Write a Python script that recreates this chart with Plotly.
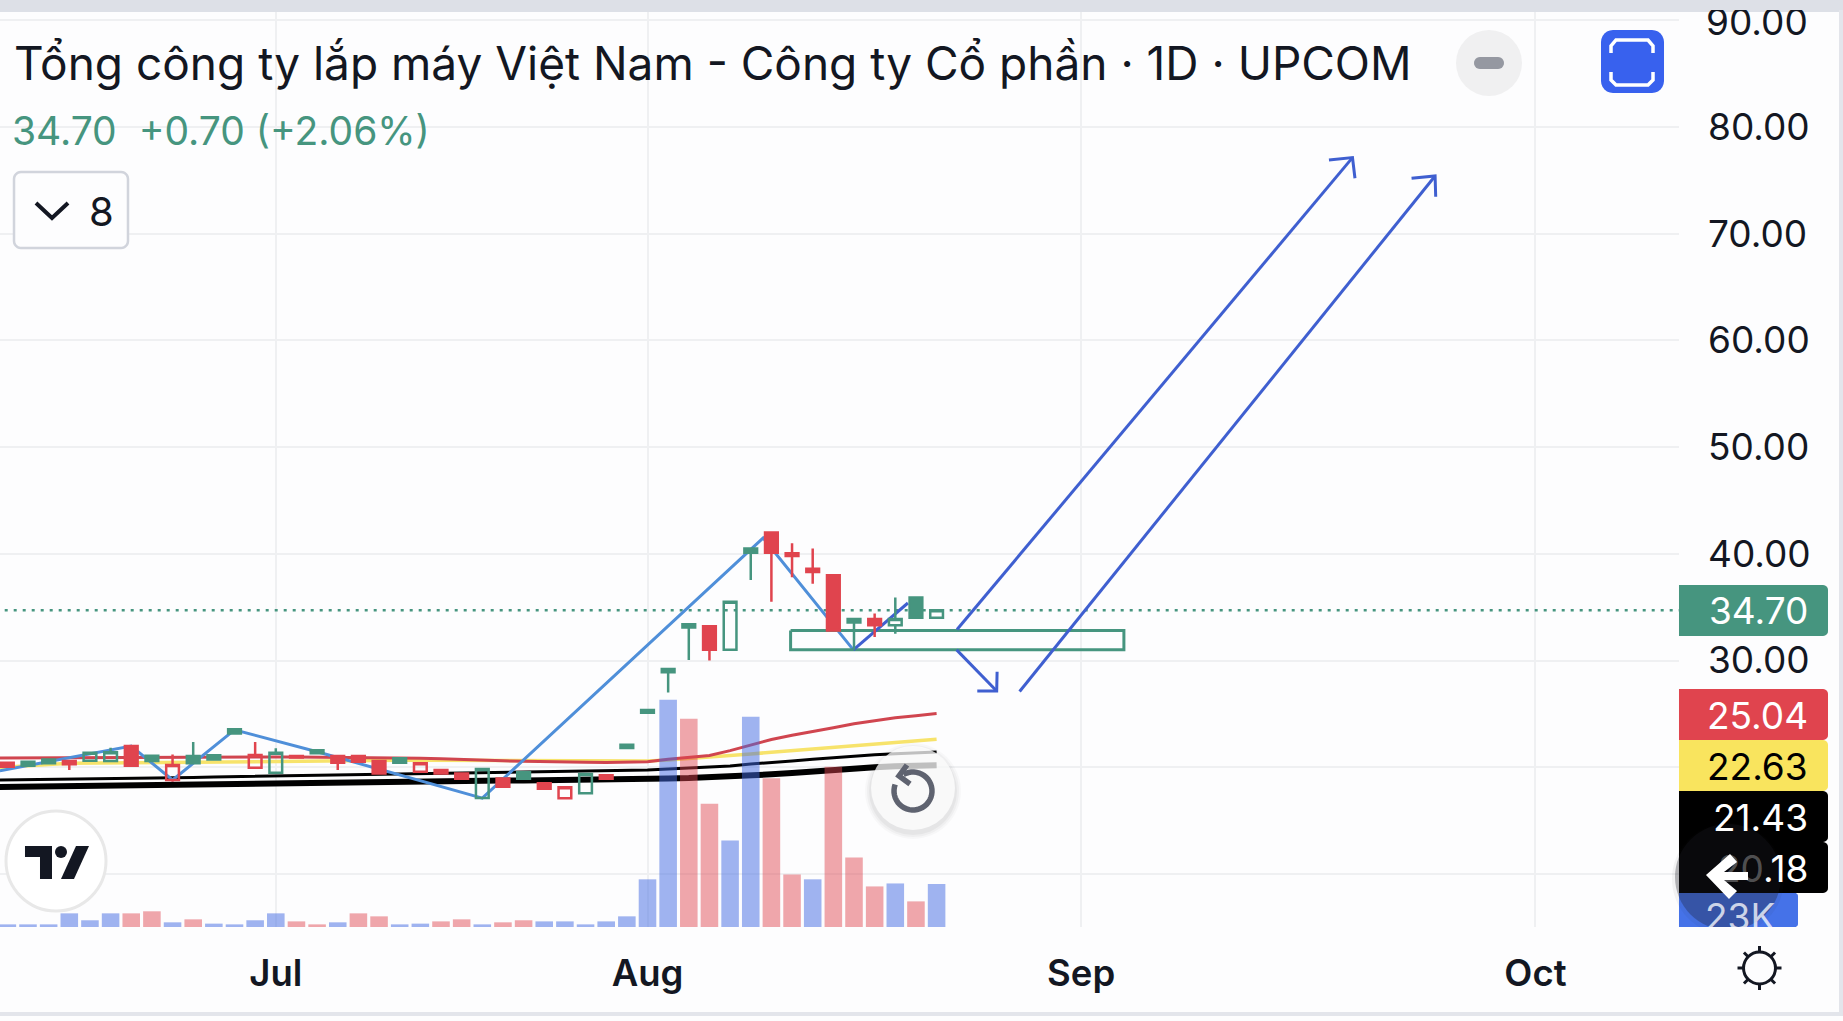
import numpy as np
import plotly.graph_objects as go

# Session number: 0 is the first session of August, -32 sits just off the left edge
bars = list(range(-32, 15))

opens = [20.5, 20.42, 20.52, 20.73, 20.58, 20.61, 20.58, 21.98, 21.08, 18.8, 21.05, 21.11, 23.55, 19.95, 19.49, 21.05, 21.58,
         21.05, 21.05, 20.58, 20.83, 19.58, 19.74, 19.42, 17.11, 18.95, 19.52, 18.49, 17.08, 17.55, 19.24, 22.1,
         25.35, 29.2, 33.4, 33.2, 31.0, 40.5, 42.0, 40.05, 38.6, 38.0, 33.9, 33.9, 33.3, 35.9, 34.0]
highs = [20.55, 20.45, 20.55, 20.78, 20.67, 21.36, 21.83, 22.0, 21.2, 21.2, 22.36, 21.15, 23.6, 22.36, 21.77, 21.08, 21.62,
         21.05, 21.05, 20.58, 20.9, 20.36, 19.74, 19.42, 19.83, 18.95, 19.52, 18.6, 18.11, 19.36, 19.3, 22.2,
         25.4, 29.3, 33.45, 33.2, 35.5, 40.55, 42.1, 41.0, 40.5, 38.0, 33.9, 34.4, 35.9, 35.9, 34.7]
lows = [20.2, 20.05, 20.14, 20.36, 19.74, 20.61, 20.58, 20.14, 20.58, 18.64, 20.36, 20.73, 23.17, 19.95, 19.49, 20.92, 21.3,
        19.74, 20.52, 19.42, 20.42, 19.58, 19.42, 18.92, 17.11, 18.17, 18.92, 17.99, 17.08, 17.55, 18.92, 21.8,
        25.1, 27.0, 30.05, 30.0, 31.0, 37.55, 35.5, 37.8, 37.2, 32.8, 31.0, 32.2, 32.5, 34.0, 34.0]
closes = [20.2, 20.05, 20.14, 20.36, 20.27, 21.36, 21.39, 20.14, 20.58, 20.2, 20.36, 20.73, 23.17, 21.14, 21.36, 20.92, 21.3,
          20.42, 20.52, 19.42, 20.42, 20.36, 19.42, 18.92, 19.83, 18.17, 18.92, 17.99, 18.11, 19.36, 18.92, 21.8,
          25.1, 28.9, 33.1, 31.0, 35.5, 40.1, 40.1, 39.8, 38.3, 32.8, 33.55, 33.3, 33.9, 34.0, 34.7]
# hg hollow green, fg filled green, hr hollow red, fr filled red
kinds = ["fr", "fr", "fg", "fg", "fr", "hg", "hg", "fr", "fg", "hr", "fg", "fg", "fg", "hr", "hg", "fr", "fg",
         "fr", "fr", "fr", "fg", "hr", "fr", "fr", "hg", "fr", "fg", "fr", "hr", "hg", "fr", "fg",
         "fg", "fg", "fg", "fr", "hg", "fg", "fr", "fr", "fr", "fr", "fg", "fr", "hg", "fg", "hg"]

volumes = [1.4, 1.4, 1.4, 1.4, 7.3, 3.6, 7.3, 7.3, 8.4, 2.5, 4.1, 1.8, 1.4, 3.6, 7.3, 3.0, 1.4, 2.5, 7.3, 5.7, 1.4,
           1.8, 3.0, 4.1, 1.4, 2.5, 3.6, 3.0, 3.0, 1.4, 3.0, 5.7, 25.5, 121.6, 111.4, 66, 46.3, 112.5, 79.6,
           28.1, 25.5, 85.8, 37.2, 21.7, 23.3, 13.7, 23.0]
volume_side = ["b", "b", "b", "b", "b", "b", "b", "r", "r", "b", "r", "b", "b", "b", "b", "r", "r", "b", "r", "r", "b",
               "b", "r", "r", "b", "r", "r", "b", "b", "b", "b", "b", "b", "b", "r", "r", "b", "b", "r",
               "r", "b", "r", "r", "r", "b", "r", "b"]

ma_red = [20.85, 20.86, 20.88, 20.90, 20.92, 20.92, 20.93, 20.93, 20.93, 20.92, 20.92, 20.93, 20.95, 20.96, 20.96, 20.96, 20.95,
          20.94, 20.93, 20.90, 20.88, 20.85, 20.80, 20.72, 20.65, 20.60, 20.55, 20.50, 20.48, 20.46, 20.44, 20.46,
          20.52, 20.74, 20.92, 21.1, 21.55, 22.08, 22.6, 23.0, 23.33, 23.7, 24.08, 24.36, 24.64, 24.83, 25.04]
ma_yellow = [19.9, 19.99, 20.12, 20.25, 20.36, 20.38, 20.42, 20.45, 20.47, 20.48, 20.5, 20.52, 20.55, 20.58, 20.59, 20.6, 20.6,
             20.62, 20.63, 20.64, 20.64, 20.64, 20.64, 20.62, 20.6, 20.6, 20.58, 20.58, 20.58, 20.58, 20.58, 20.58,
             20.58, 20.67, 20.8, 20.92, 21.05, 21.24, 21.4, 21.55, 21.77, 21.92, 22.02, 22.17, 22.33, 22.48, 22.63]
ma_thin = [18.78, 18.8, 18.83, 18.85, 18.87, 18.89, 18.92, 18.95, 18.98, 19.01, 19.04, 19.08, 19.11, 19.14, 19.17, 19.2, 19.24,
           19.27, 19.3, 19.33, 19.36, 19.39, 19.42, 19.44, 19.47, 19.49, 19.52, 19.55, 19.58, 19.62, 19.66, 19.7,
           19.74, 19.83, 19.92, 20.0, 20.11, 20.3, 20.42, 20.58, 20.74, 20.89, 21.05, 21.17, 21.27, 21.36, 21.43]
ma_thick = [18.14, 18.17, 18.2, 18.23, 18.26, 18.28, 18.3, 18.33, 18.36, 18.39, 18.42, 18.45, 18.49, 18.51, 18.54, 18.56, 18.59,
            18.61, 18.63, 18.65, 18.67, 18.69, 18.7, 18.72, 18.73, 18.75, 18.76, 18.77, 18.8, 18.83, 18.86, 18.89,
            18.92, 18.95, 18.99, 19.05, 19.14, 19.27, 19.33, 19.45, 19.61, 19.77, 19.89, 19.99, 20.08, 20.17, 20.18]

# Hand drawn lines on the chart
zigzag_x = [-31.36, -25, -23, -20, -16, -8, 5.6, 9.97]
zigzag_y = [19.67, 21.98, 18.8, 23.5, 21.45, 17.1, 41.48, 31.0]
leg_x = [9.97, 12.61]
leg_y = [31.0, 35.39]
arrow_a_x = [14.99, 34.14, None, 33.0, 34.14, 34.26]
arrow_a_y = [32.9, 77.13, None, 76.9, 77.13, 75.2]
arrow_b_x = [14.97, 16.91, None, 15.97, 16.91, 16.93]
arrow_b_y = [31.0, 27.14, None, 27.14, 27.14, 28.95]
arrow_c_x = [18.02, 38.14, None, 37.0, 38.14, 38.17]
arrow_c_y = [27.1, 75.41, None, 75.19, 75.41, 73.47]
box_x = [6.93, 23.07, 23.07, 6.93, 6.93]
box_y = [32.8, 32.8, 31.0, 31.0, 32.8]

last_price = 34.70
month_ticks = [-18, 0, 21, 43]
month_labels = ["Jul", "Aug", "Sep", "Oct"]
price_ticks = [10, 20, 30, 40, 50, 60, 70, 80, 90]
price_labels = ["", "", "30.00", "40.00", "50.00", "60.00", "70.00", "80.00", ""]

W, H = 1843, 1021
FONT = "Inter"
BG = "#FDFDFE"
GREEN = "#46957F"
RED = "#E0444E"
GRID = "#EFF0F2"
INK = "#131722"
BLUE_DRAW = "#3F5FD0"
PLOT_R, PLOT_T, PLOT_B = 1679, 12, 927


def fx(x):
    return x / W


def fy(y):
    return 1 - y / H


def path(points, close=True):
    d = "M" + " L".join(f"{fx(x):.5f},{fy(y):.5f}" for x, y in points)
    return d + (" Z" if close else "")


def round_rect(x0, y0, x1, y1, r_left, r_right):
    pts = []
    corners = [(x0 + r_left, y0 + r_left, r_left, 180), (x1 - r_right, y0 + r_right, r_right, 270),
               (x1 - r_right, y1 - r_right, r_right, 0), (x0 + r_left, y1 - r_left, r_left, 90)]
    for cx, cy, r, start in corners:
        for a in np.radians(np.linspace(start, start + 90, 7)):
            pts.append((cx + r * np.cos(a), cy + r * np.sin(a)))
    return path(pts)


def arc(cx, cy, r, a0, a1):
    return [(cx + r * np.cos(a), cy + r * np.sin(a)) for a in np.radians(np.linspace(a0, a1, 40))]


shapes = []


def add_path(d, fill=None, line=None, width=0, layer="above"):
    shapes.append(dict(type="path", xref="paper", yref="paper", path=d, fillcolor=fill or "rgba(0,0,0,0)",
                       line=dict(color=line or "rgba(0,0,0,0)", width=width), layer=layer))


def add_circle(cx, cy, r, fill, line=None, width=0):
    shapes.append(dict(type="circle", xref="paper", yref="paper", x0=fx(cx - r), x1=fx(cx + r),
                       y0=fy(cy + r), y1=fy(cy - r), fillcolor=fill,
                       line=dict(color=line or "rgba(0,0,0,0)", width=width), layer="above"))


def add_rect(x0, y0, x1, y1, fill):
    shapes.append(dict(type="rect", xref="paper", yref="paper", x0=fx(x0), x1=fx(x1), y0=fy(y1), y1=fy(y0),
                       fillcolor=fill, line=dict(width=0), layer="above"))


fig = go.Figure()

# Moving averages and drawings sit under the candles
for values, color, width in [(ma_thick, "#000000", 6), (ma_thin, "#000000", 3),
                             (ma_yellow, "#F7E36B", 3.5), (ma_red, "#D0454F", 3)]:
    fig.add_trace(go.Scatter(x=bars, y=values, mode="lines", line=dict(color=color, width=width), showlegend=False))

fig.add_trace(go.Scatter(x=[month_ticks[0] - 14, 50], y=[last_price, last_price], mode="lines",
                         line=dict(color=GREEN, width=2.5, dash="3px,6px"), showlegend=False))
fig.add_trace(go.Scatter(x=zigzag_x, y=zigzag_y, mode="lines", line=dict(color="#4F8FD9", width=3), showlegend=False))
fig.add_trace(go.Scatter(x=box_x, y=box_y, mode="lines", line=dict(color=GREEN, width=3), showlegend=False))
for xs, ys in [(leg_x, leg_y), (arrow_a_x, arrow_a_y), (arrow_b_x, arrow_b_y), (arrow_c_x, arrow_c_y)]:
    fig.add_trace(go.Scatter(x=xs, y=ys, mode="lines", line=dict(color=BLUE_DRAW, width=3), showlegend=False))

# Hollow candle style needs one trace per look
looks = {"hg": (GREEN, "rgba(0,0,0,0)"), "fg": (GREEN, GREEN), "hr": (RED, "rgba(0,0,0,0)"), "fr": (RED, RED)}
for kind, (edge, fill) in looks.items():
    idx = [i for i, k in enumerate(kinds) if k == kind]
    style = dict(line=dict(color=edge, width=2.5), fillcolor=fill)
    fig.add_trace(go.Candlestick(x=[bars[i] for i in idx], open=[opens[i] for i in idx], high=[highs[i] for i in idx],
                                 low=[lows[i] for i in idx], close=[closes[i] for i in idx],
                                 increasing=style, decreasing=style, whiskerwidth=0,
                                 yaxis="y2", showlegend=False))

fig.add_trace(go.Bar(x=bars, y=volumes, width=0.85, yaxis="y3", showlegend=False,
                     marker=dict(color=["rgba(65,105,225,0.5)" if s == "b" else "rgba(224,68,78,0.47)" for s in volume_side],
                                 line=dict(width=0))))

y_range = [80 - (PLOT_B - 127) / 10.67, 80 + (127 - PLOT_T) / 10.67]
x_range = [-647.5 / 20.65, (PLOT_R - 647.5) / 20.65]
y_domain = [fy(PLOT_B), fy(PLOT_T)]

# Price tags on the scale
for y0, y1, color in [(585, 636, GREEN), (689, 740, RED), (740, 791, "#F9E45E"), (791, 842, "#000000"), (842, 893, "#000000")]:
    add_path(round_rect(PLOT_R, y0, 1828, y1, 0, 5), fill=color)
add_path(round_rect(PLOT_R, 893, 1798, 927, 0, 3), fill="#4572E8")

# Round back button over the tags
add_circle(1728, 879, 56, "rgba(30,30,40,0.05)")
add_circle(1728, 877, 53, "rgba(28,28,36,0.3)")
add_path(path([(1706, 875), (1730, 854), (1737, 862), (1724, 872), (1748, 872), (1748, 880), (1724, 880),
               (1737, 891), (1729, 899)]), fill="#FFFFFF")

# Top and side strips
add_rect(0, 0, W, PLOT_T, "#DDE0E7")
add_rect(1839, 0, W, 1012, "#E3E5EB")
add_rect(0, 1012, W, 1016, "#E3E5EB")

# Header buttons
add_circle(1489, 63, 33, "#F0F0F1")
add_path(round_rect(1474, 57, 1504, 69, 6, 6), fill="#9598A1")
add_path(round_rect(1601, 30, 1664, 93, 12, 12), fill="#3861EE")
add_path(path([(1611, 53), (1611, 46), (1616, 40), (1648, 40), (1653, 46), (1653, 53)], close=False), line="#FFFFFF", width=3.5)
add_path(path([(1611, 72), (1611, 80), (1616, 85), (1648, 85), (1653, 80), (1653, 72)], close=False), line="#FFFFFF", width=3.5)

# Legend collapse box with chevron
add_path(round_rect(14, 172, 128, 248, 7, 7), fill=BG, line="#D1D4DC", width=2.5)
add_path(path([(36, 203), (52, 218), (68, 203)], close=False), line=INK, width=4)

# TradingView badge
add_circle(56, 861, 50, "#FFFFFF", line="#E8E8E8", width=3)
add_path(path([(25, 846), (52, 846), (52, 879), (40, 879), (40, 857), (25, 857)]), fill=INK)
add_circle(61, 852, 6, INK)
add_path(path([(89, 846), (74, 879), (61, 879), (76, 846)]), fill=INK)

# Reset button
for r, alpha in [(48, 0.025), (46, 0.03), (44, 0.04)]:
    add_circle(913, 791, r, f"rgba(0,0,0,{alpha})")
add_circle(913, 788, 42, "rgba(255,255,255,0.75)")
add_path(path(arc(913, 791, 19, -120, 200), close=False), line="#5F6370", width=5.5)
add_path(path([(907, 765), (899, 776), (910, 784)], close=False), line="#5F6370", width=5.5)

# Sun icon
add_circle(1759.5, 968, 16, BG, line=INK, width=3)
for a in range(0, 360, 45):
    c, s = np.cos(np.radians(a)), np.sin(np.radians(a))
    add_path(path([(1759.5 + 16 * c, 968 + 16 * s), (1759.5 + 22 * c, 968 + 22 * s)], close=False), line=INK, width=3)

annotations = []


def add_text(x, y, text, size, color=INK, anchor="left", weight=None):
    annotations.append(dict(x=fx(x), y=fy(y), xref="paper", yref="paper", text=text, showarrow=False,
                            xanchor=anchor, yanchor="middle", align=anchor,
                            font=dict(family=FONT, size=size, color=color, weight=weight)))


add_text(12, 63, "Tổng công ty lắp máy Việt Nam - Công ty Cổ phần · 1D · UPCOM", 46)
add_text(10, 130, "34.70&nbsp;&nbsp;+0.70 (+2.06%)", 39, GREEN)
add_text(87, 211, "8", 40)
add_text(1810, 21, "90.00", 37, anchor="right")
for y, text, color in [(610, "34.70", "#FFFFFF"), (715, "25.04", "#FFFFFF"), (766, "22.63", "#000000"),
                       (817, "21.43", "#FFFFFF")]:
    add_text(1810, y, text, 37, color, anchor="right")
# The back button dims the start of these two
add_text(1810, 868, '<span style="color:rgba(255,255,255,0.3)">20</span>.18', 37, "#FFFFFF", anchor="right")
add_text(1777, 916, "23K", 37, "rgba(255,255,255,0.75)", anchor="right")

# Covers: the scale clips its top label and the volume tag
annotations.append(dict(x=0, y=1, xref="paper", yref="paper", xanchor="left", yanchor="top", text=" ", showarrow=False,
                        width=W, height=PLOT_T - 2, bgcolor="#DDE0E7", borderpad=0, borderwidth=0, font=dict(size=6)))
annotations.append(dict(x=fx(1700), y=fy(PLOT_B), xref="paper", yref="paper", xanchor="left", yanchor="top", text=" ",
                        showarrow=False, width=100, height=14, bgcolor=BG, borderpad=0, borderwidth=0, font=dict(size=6)))

fig.update_layout(
    width=W, height=H, margin=dict(l=0, r=0, t=0, b=0), paper_bgcolor=BG, plot_bgcolor=BG,
    font=dict(family=FONT, color=INK), showlegend=False, barmode="overlay", dragmode=False, boxgap=0.12,
    xaxis=dict(domain=[0, fx(PLOT_R)], range=x_range, rangeslider=dict(visible=False), tickmode="array",
               tickvals=month_ticks, ticktext=month_labels, showgrid=True, gridcolor=GRID, gridwidth=2,
               zeroline=False, showline=False, ticks="", ticklabelstandoff=21,
               tickfont=dict(family=FONT, size=36.5, color=INK, weight=600)),
    yaxis=dict(domain=y_domain, range=y_range, side="right", tickmode="array", tickvals=price_ticks,
               ticktext=price_labels, showgrid=True, gridcolor=GRID, gridwidth=2, zeroline=False, showline=False,
               ticks="", ticklabelstandoff=28, tickfont=dict(family=FONT, size=37, color=INK)),
    yaxis2=dict(domain=y_domain, range=y_range, overlaying="y", visible=False),
    yaxis3=dict(domain=y_domain, range=[0, (PLOT_B - PLOT_T) * 0.535], overlaying="y", visible=False),
    shapes=shapes, annotations=annotations,
)

fig.write_html("out.html", config=dict(displayModeBar=False),
               post_script="document.body.style.margin='0';document.body.style.overflow='hidden';")
